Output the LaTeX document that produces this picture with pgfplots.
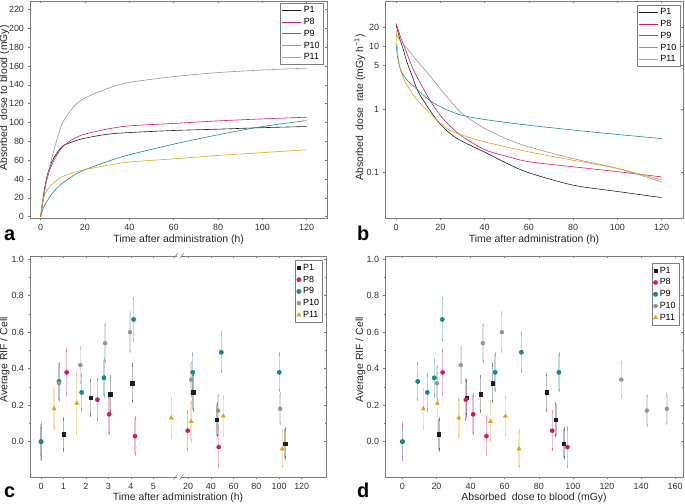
\documentclass[border=0pt]{standalone}
\usepackage{pgfplots}
\pgfplotsset{compat=1.18}
\usepackage{fontspec}
\setmainfont{Liberation Sans}
\definecolor{cP1}{RGB}{30,30,30}
\definecolor{cP8}{RGB}{214,22,110}
\definecolor{cP9}{RGB}{20,140,140}
\definecolor{cP10}{RGB}{150,150,150}
\definecolor{cP11}{RGB}{222,165,20}
\definecolor{axgray}{RGB}{125,125,125}
\pgfplotsset{
  panel/.style={
    scale only axis,
    axis line style={axgray, line width=0.6pt},
    tick style={axgray, line width=0.5pt},
    tick align=outside,
    xtick pos=bottom, ytick pos=left,
    major tick length=2.5bp,
    minor tick length=1.5bp,
    tick label style={font=\fontsize{9}{10}\selectfont, text=black!80},
    label style={font=\fontsize{10.5}{12}\selectfont, text=black!85},
    ylabel style={anchor=south},
    xlabel style={yshift=2.5bp},
    /pgf/number format/assume math mode=true,
    legend style={font=\fontsize{9}{10}\selectfont, draw=axgray, line width=0.5pt,
      inner sep=1.5pt, row sep=0pt, cells={anchor=west}},
    legend cell align=left,
    clip=false,
  },
  mirror/.style={
    scale only axis, anchor=south west,
    axis line style={draw=none},
    tick style={axgray, line width=0.5pt},
    tick align=inside,
    xtick pos=top, ytick pos=right,
    major tick length=2.5bp,
    minor tick length=1.5bp,
    xticklabels={}, yticklabels={},
  },
  linelegend/.style={legend image code/.code={\draw[##1, line width=0.9pt] (0bp,0bp) -- (19bp,0bp);}},
  curve/.style={smooth, line width=0.6pt, no marks},
  pts/.style={only marks,
    error bars/y dir=both, error bars/y explicit,
    error bars/error bar style={line width=1.4pt, draw opacity=0.3},
    error bars/error mark options={line width=0.7pt, mark size=1.7bp, draw opacity=0.45}},
}
\begin{document}
\begin{tikzpicture}[x=1bp,y=1bp]
\useasboundingbox (0,0) rectangle (685,504);

% ---------------- panel a ----------------
\begin{axis}[panel, linelegend, at={(30bp,286bp)}, anchor=south west, width=297.3bp, height=217bp,
  xmin=-4.8, xmax=129.3, ymin=-1.4, ymax=229,
  xtick={0,20,...,120}, ytick={0,20,...,220}, minor x tick num=1,
  xlabel={Time after administration (h)},
  ylabel={Absorbed\ \ dose to blood (mGy)},
  ylabel style={at={(axis description cs:-0.058,0.553)}},
  legend style={at={(0.987,0.991)}, anchor=north east}]
\addplot[curve, cP1] coordinates {(0,0) (1,18) (2,33) (3,44) (5,58) (7.5,68) (10,75) (15,80) (20,83.3) (30,87.5) (40,89.3) (60,91.5) (80,92.9) (100,94.5) (120,95.7)};
\addlegendentry{P1}
\addplot[curve, cP8] coordinates {(0,0) (1,15) (2,30) (3,41) (5,55) (7.5,66) (10,74.5) (15,83) (20,87.6) (30,93) (40,96.4) (60,99) (80,101.7) (100,103.8) (120,105.6)};
\addlegendentry{P8}
\addplot[curve, cP9] coordinates {(0,1) (1,8) (2,13) (3,17) (5,24) (7.5,30.5) (10,35.7) (15,44) (20,49.8) (30,58.5) (40,65.7) (60,77) (80,86.9) (100,95.7) (120,102)};
\addlegendentry{P9}
\addplot[curve, cP10] coordinates {(0,0) (1,15) (2,30) (3,42) (5,62) (7.5,83) (10,100) (15,117) (20,126) (30,136) (40,142.5) (60,148.7) (80,153) (100,155.7) (120,157.7)};
\addlegendentry{P10}
\addplot[curve, cP11] coordinates {(0,2) (1,17) (2,24) (3,28.5) (5,34) (7.5,39) (10,42.7) (15,47) (20,49.8) (30,54.5) (40,58) (60,61.4) (80,65) (100,68) (120,71)};
\addlegendentry{P11}
\end{axis}
\begin{axis}[mirror, at={(30bp,286bp)}, width=297.3bp, height=217bp,
  xmin=-4.8, xmax=129.3, ymin=-1.4, ymax=229,
  xtick={0,20,...,120}, ytick={0,20,...,220}, minor x tick num=1]
\end{axis}

% ---------------- panel b ----------------
\begin{axis}[panel, linelegend, at={(385bp,286bp)}, anchor=south west, width=298bp, height=217bp,
  ymode=log, xmin=-5, xmax=129.7, ymin=0.019, ymax=52,
  xtick={0,20,...,120}, minor x tick num=1,
  ytick={0.1,1,5,10,20}, yticklabels={0.1,1,5,10,20},
  xlabel={Time after administration (h)},
  ylabel={Absorbed\ \ dose\ \ rate (mGy h\textsuperscript{−1})},
  ylabel style={at={(axis description cs:-0.054,0.51)}},
  legend style={at={(0.99,0.982)}, anchor=north east}]
\addplot[curve, cP1] coordinates {(0,22) (1,16) (2,12) (3,9.5) (5,5.5) (7.5,3.2) (10,1.9) (15,1.0) (20,0.58) (25,0.40) (30,0.31) (40,0.21) (50,0.14) (60,0.099) (80,0.063) (100,0.050) (120,0.040)};
\addlegendentry{P1}
\addplot[curve, cP8] coordinates {(0,23) (1,18) (2,14) (3,11.5) (5,7.5) (7.5,4.5) (10,3.0) (15,1.45) (20,0.80) (25,0.52) (30,0.37) (40,0.23) (50,0.18) (60,0.148) (80,0.123) (100,0.103) (120,0.085)};
\addlegendentry{P8}
\addplot[curve, cP9] coordinates {(0,11) (0.5,7.5) (1,5.8) (2,4.3) (3,3.6) (5,2.9) (7.5,2.4) (10,2.0) (15,1.4) (20,1.1) (25,0.92) (30,0.80) (40,0.69) (60,0.56) (80,0.47) (100,0.40) (120,0.344)};
\addlegendentry{P9}
\addplot[curve, cP10] coordinates {(0,15.6) (2,12) (5,9.2) (10,5.6) (15,3.5) (20,2.1) (25,1.3) (30,0.85) (40,0.50) (50,0.34) (60,0.254) (80,0.166) (100,0.116) (120,0.071)};
\addlegendentry{P10}
\addplot[curve, cP11] coordinates {(0,18.5) (0.5,10) (1,6.5) (2,4.2) (3,3.3) (5,2.4) (7.5,1.75) (10,1.35) (15,0.88) (20,0.60) (25,0.45) (30,0.39) (40,0.305) (60,0.212) (80,0.156) (100,0.116) (120,0.076)};
\addlegendentry{P11}
\end{axis}
\begin{axis}[mirror, at={(385bp,286bp)}, width=298bp, height=217bp,
  ymode=log, xmin=-5, xmax=129.7, ymin=0.019, ymax=52,
  xtick={0,20,...,120}, minor x tick num=1, ytick={0.1,1,5,10,20}]
\end{axis}

% ---------------- panel c ----------------
\begin{axis}[panel, at={(30bp,27bp)}, anchor=south west, width=296bp, height=221bp,
  xmin=-0.49, xmax=12.68, ymin=-0.194, ymax=1.018,
  x filter/.expression={x<=5 ? x : 6.55+(x-20)*0.0505},
  xtick={0,1,2,3,4,5,6.55,7.56,8.57,9.58,10.59,11.6},
  xticklabels={0,1,2,3,4,5,20,40,60,80,100,120},
  minor xtick={0.5,1.5,2.5,3.5,4.5,7.055,8.065,9.075,10.085,11.095,12.105},
  ytick={0,0.2,...,1.0}, minor y tick num=1,
  yticklabel style={/pgf/number format/.cd, fixed, fixed zerofill, precision=1},
  xlabel={Time after administration (h)},
  xlabel style={yshift=1bp},
  ylabel={Average RIF / Cell},
  ylabel style={at={(axis description cs:-0.057,0.53)}},
  legend style={at={(0.989,0.98)}, anchor=north east}]
\addplot[pts, cP1, mark=square*, mark size=1.7bp] table[x=x, y=y, y error=e] {
x y e
1.0 0.04 0.085
2.2 0.24 0.095
3.08 0.26 0.096
4.06 0.32 0.10
24.3 0.27 0.098
45.3 0.12 0.088
105.3 -0.01 0.08
};
\addlegendentry{P1}
\addplot[pts, cP8, mark=*, mark size=2.1bp] table[x=x, y=y, y error=e] {
x y e
0 0.00 0.099
1.14 0.38 0.12
2.51 0.23 0.11
3.03 0.15 0.106
4.18 0.03 0.10
19.6 0.06 0.104
46.9 -0.03 0.105
};
\addlegendentry{P8}
\addplot[pts, cP9, mark=*, mark size=2.2bp] table[x=x, y=y, y error=e] {
x y e
0 0.00 0.08
0.80 0.33 0.10
1.81 0.27 0.096
2.80 0.35 0.10
4.12 0.67 0.115
24.0 0.38 0.10
49.1 0.49 0.107
100.2 0.38 0.10
};
\addlegendentry{P9}
\addplot[pts, cP10, mark=*, mark size=2.0bp] table[x=x, y=y, y error=e] {
x y e
0.80 0.32 0.093
1.75 0.42 0.096
2.85 0.54 0.103
3.96 0.60 0.106
22.6 0.34 0.093
46.3 0.17 0.083
101.0 0.18 0.082
};
\addlegendentry{P10}
\addplot[pts, cP11, mark=triangle*, mark size=2.4bp] table[x=x, y=y, y error=e] {
x y e
0.58 0.18 0.105
1.59 0.21 0.165
5.09 0.13 0.104
22.6 0.11 0.107
50.9 0.14 0.105
102.8 -0.04 0.098
};
\addlegendentry{P11}
% axis break marks
\fill[white] ([xshift=-2bp,yshift=-1.5bp]rel axis cs:0.502,0) rectangle ([xshift=2bp,yshift=1.5bp]rel axis cs:0.502,0);
\draw[axgray, line width=0.6pt] ([xshift=-5bp,yshift=-2.5bp]rel axis cs:0.502,0) -- ++(4bp,5bp);
\draw[axgray, line width=0.6pt] ([xshift=1bp,yshift=-2.5bp]rel axis cs:0.502,0) -- ++(4bp,5bp);
\fill[white] ([xshift=-2bp,yshift=-1.5bp]rel axis cs:0.502,1) rectangle ([xshift=2bp,yshift=1.5bp]rel axis cs:0.502,1);
\draw[axgray, line width=0.6pt] ([xshift=-5bp,yshift=-2.5bp]rel axis cs:0.502,1) -- ++(4bp,5bp);
\draw[axgray, line width=0.6pt] ([xshift=1bp,yshift=-2.5bp]rel axis cs:0.502,1) -- ++(4bp,5bp);
\end{axis}
\begin{axis}[mirror, at={(30bp,27bp)}, width=296bp, height=221bp,
  xmin=-0.49, xmax=12.68, ymin=-0.194, ymax=1.018,
  xtick={0,1,2,3,4,5,6.55,7.56,8.57,9.58,10.59,11.6},
  minor xtick={0.5,1.5,2.5,3.5,4.5,7.055,8.065,9.075,10.085,11.095,12.105},
  ytick={0,0.2,...,1.0}, minor y tick num=1]
\end{axis}

% ---------------- panel d ----------------
\begin{axis}[panel, at={(385bp,27bp)}, anchor=south west, width=298bp, height=221bp,
  xmin=-10.2, xmax=164.6, ymin=-0.194, ymax=1.018,
  xtick={0,20,...,160}, minor x tick num=1,
  ytick={0,0.2,...,1.0}, minor y tick num=1,
  yticklabel style={/pgf/number format/.cd, fixed, fixed zerofill, precision=1},
  xlabel={Absorbed\ \ dose to blood (mGy)},
  xlabel style={yshift=1bp},
  ylabel={Average RIF / Cell},
  ylabel style={at={(axis description cs:-0.054,0.53)}},
  legend style={at={(0.988,0.967)}, anchor=north east}]
\addplot[pts, cP1, mark=square*, mark size=1.7bp] table[x=x, y=y, y error=e] {
x y e
21.4 0.04 0.085
37.6 0.24 0.095
45.8 0.26 0.096
52.8 0.32 0.10
84.7 0.27 0.098
90.0 0.12 0.088
94.7 -0.01 0.08
};
\addlegendentry{P1}
\addplot[pts, cP8, mark=*, mark size=2.1bp] table[x=x, y=y, y error=e] {
x y e
0 0.00 0.099
23.6 0.38 0.12
37.2 0.23 0.11
41.5 0.15 0.106
49.3 0.03 0.10
87.9 0.06 0.104
96.8 -0.03 0.105
};
\addlegendentry{P8}
\addplot[pts, cP9, mark=*, mark size=2.2bp] table[x=x, y=y, y error=e] {
x y e
0 0.00 0.08
9.0 0.33 0.10
14.6 0.27 0.096
18.7 0.35 0.10
23.4 0.67 0.115
54.4 0.38 0.10
69.8 0.49 0.107
91.8 0.38 0.10
};
\addlegendentry{P9}
\addplot[pts, cP10, mark=*, mark size=2.0bp] table[x=x, y=y, y error=e] {
x y e
20.3 0.32 0.093
34.3 0.42 0.096
47.2 0.54 0.103
58.3 0.60 0.106
128.4 0.34 0.093
143.4 0.17 0.083
155.1 0.18 0.082
};
\addlegendentry{P10}
\addplot[pts, cP11, mark=triangle*, mark size=2.4bp] table[x=x, y=y, y error=e] {
x y e
12.3 0.18 0.105
20.5 0.21 0.165
33.1 0.13 0.104
51.7 0.11 0.107
60.4 0.14 0.105
68.4 -0.04 0.098
};
\addlegendentry{P11}
\end{axis}
\begin{axis}[mirror, at={(385bp,27bp)}, width=298bp, height=221bp,
  xmin=-10.2, xmax=164.6, ymin=-0.194, ymax=1.018,
  xtick={0,20,...,160}, minor x tick num=1,
  ytick={0,0.2,...,1.0}, minor y tick num=1]
\end{axis}

% panel letters
\node[anchor=base west, font=\bfseries\fontsize{20}{20}\selectfont, inner sep=0pt] at (4,263) {a};
\node[anchor=base west, font=\bfseries\fontsize{20}{20}\selectfont, inner sep=0pt] at (357,263) {b};
\node[anchor=base west, font=\bfseries\fontsize{20}{20}\selectfont, inner sep=0pt] at (4,6) {c};
\node[anchor=base west, font=\bfseries\fontsize{20}{20}\selectfont, inner sep=0pt] at (357,6) {d};
\end{tikzpicture}
\end{document}
